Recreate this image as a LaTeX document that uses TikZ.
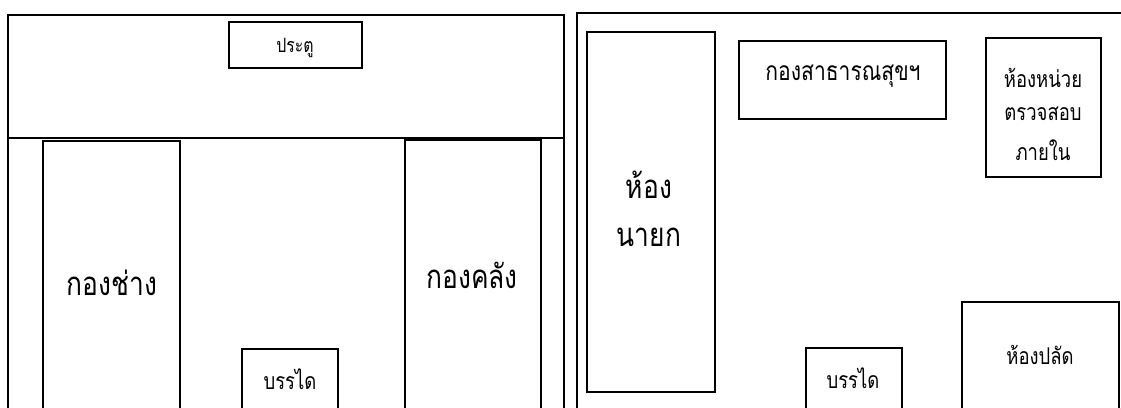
\documentclass[tikz,border=0pt]{standalone}
\usepackage{fontspec}
\newfontfamily\thaifont[Script=Thai]{Loma}
\tikzset{
  room/.style={line width=0.8pt},
  tall/.style={yscale=1.25, transform shape},
  smalltxt/.style={tall, font=\thaifont\fontsize{9}{10}\selectfont, inner sep=0pt},
  midtxt/.style={tall, font=\thaifont\fontsize{10.5}{12}\selectfont, inner sep=0pt},
  bigtxt/.style={tall, font=\thaifont\fontsize{15}{17}\selectfont, inner sep=0pt}
}
\begin{document}
\begin{tikzpicture}[x=0.02cm,y=-0.02cm]
      \useasboundingbox (0,0) rectangle (1121,408);
      \clip (0,0) rectangle (1121,408);
      % left wing
      \draw[room] (8,15) rectangle (564,430);
      \draw[room] (8,138) -- (564,138);
      % right wing
      \draw[room] (577,13) rectangle (1140,430);
      % rooms
      \foreach \xa/\ya/\xb/\yb in {229/22/362/68, 43/141/180/430, 405/140/541/430,
          242/349/338/430, 587/32/715/392, 739/41/946/119, 986/38/1101/177,
          962/302/1119/430, 806/348/902/430}
        \draw[room] (\xa,\ya) rectangle (\xb,\yb);
      \node[smalltxt] (door) at (295,48) {ประตู};
      \node[bigtxt] (chang) at (112,283) {กองช่าง};
      \node[bigtxt] (khlang) at (472,275) {กองคลัง};
      \node[midtxt] (stairl) at (290,379) {บรรได};
      \node[bigtxt] (nayoka) at (649,185) {ห้อง};
      \node[bigtxt] (nayokb) at (649,237) {นายก};
      \node[midtxt, font=\thaifont\fontsize{12}{14}\selectfont] (health) at (843,76) {กองสาธารณสุขฯ};
      \node[midtxt] (audita) at (1043,78) {ห้องหน่วย};
      \node[midtxt] (auditb) at (1043,114) {ตรวจสอบ};
      \node[midtxt] (auditc) at (1043,150) {ภายใน};
      \node[midtxt] (palat) at (1040,355) {ห้องปลัด};
      \node[midtxt] (stairr) at (853,378) {บรรได};
    \end{tikzpicture}
\end{document}
